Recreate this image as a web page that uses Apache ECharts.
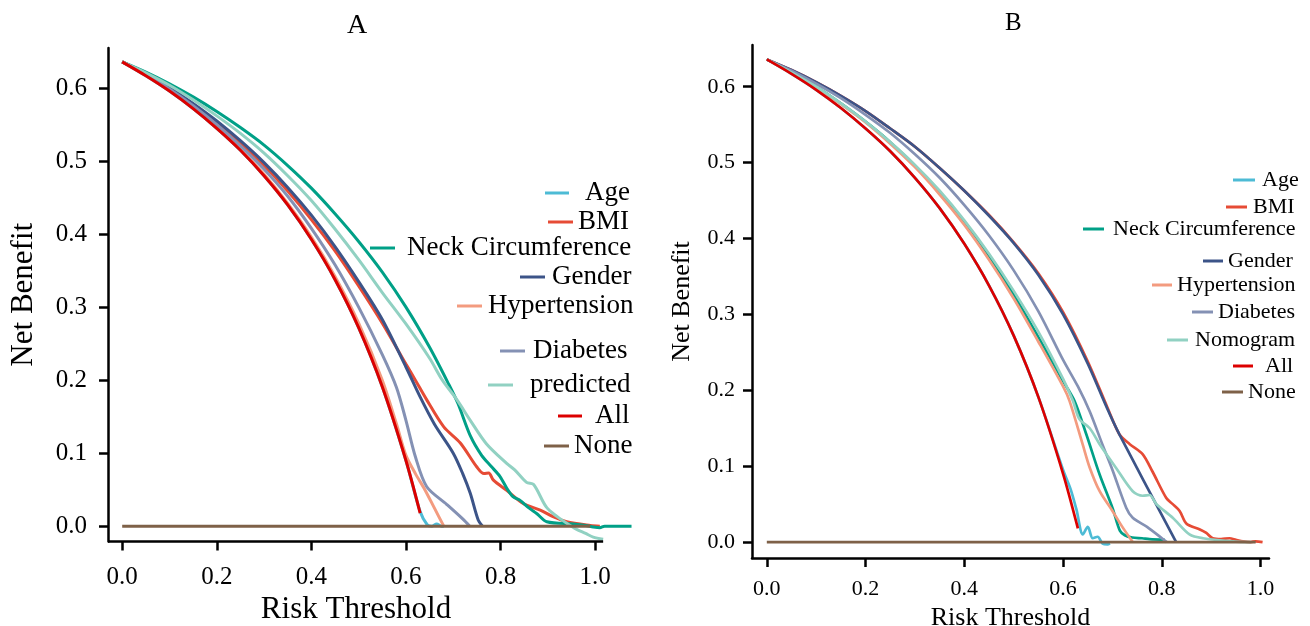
<!DOCTYPE html>
<html>
<head>
<meta charset="utf-8">
<script src="https://cdn.jsdelivr.net/npm/echarts@6.0.0/dist/echarts.min.js"></script>
<style>
  html, body { margin: 0; padding: 0; background: #fff; }
  #chart { width: 1310px; height: 626px; }
</style>
</head>
<body>
<div id="chart"></div>
<script>
// ---- data (risk threshold, net benefit) ----
const tickVals = [0, 0.2, 0.4, 0.6, 0.8, 1.0]
const yTickVals = [0, 0.1, 0.2, 0.3, 0.4, 0.5, 0.6]

const treatAll = [[0,.636],[.05,.617],[.1,.596],[.15,.572],[.2,.545],[.25,.515],[.3,.48],[.35,.44],[.4,.393],[.45,.338],[.5,.272],[.55,.191],[.6,.09],[.63,.018]]
const treatNone = [[0,0],[.99,0]]

// panel A
const ageA = [[0,.636],[.05,.617],[.1,.596],[.15,.572],[.2,.545],[.25,.515],[.3,.48],[.35,.44],[.4,.393],[.45,.338],[.5,.272],[.55,.191],[.6,.09],[.63,.02],[.645,.002],[.655,0],[.665,.003],[.675,0],[.68,0]]
const bmiA = [[0,.636],[.05,.62],[.1,.6],[.15,.578],[.2,.553],[.25,.525],[.3,.494],[.35,.459],[.4,.42],[.45,.377],[.5,.329],[.55,.278],[.6,.222],[.62,.2],[.644,.173],[.68,.136],[.715,.114],[.75,.081],[.765,.072],[.775,.073],[.785,.063],[.813,.049],[.848,.031],[.884,.022],[.911,.013],[.94,.006],[.99,.001],[1.01,0]]
const neckA = [[0,.636],[.05,.622],[.1,.606],[.15,.588],[.2,.568],[.25,.546],[.3,.522],[.35,.494],[.4,.463],[.45,.428],[.5,.39],[.55,.348],[.6,.3],[.65,.245],[.69,.195],[.71,.168],[.736,.124],[.76,.097],[.78,.082],[.799,.068],[.815,.05],[.827,.04],[.84,.036],[.86,.025],[.877,.017],[.898,.006],[.954,.003],[.98,.001],[.996,-.001],[1.01,-.002],[1.02,0],[1.077,0]]
const genderA = [[0,.636],[.05,.62],[.1,.601],[.15,.579],[.2,.555],[.25,.528],[.3,.498],[.35,.464],[.4,.426],[.45,.383],[.5,.335],[.55,.283],[.6,.218],[.63,.177],[.66,.14],[.7,.1],[.72,.072],[.736,.045],[.753,.008],[.762,0]]
const hyperA = [[0,.636],[.05,.618],[.1,.597],[.15,.573],[.2,.546],[.25,.516],[.3,.482],[.35,.442],[.4,.396],[.45,.342],[.5,.278],[.55,.2],[.58,.14],[.6,.097],[.62,.072],[.64,.05],[.66,.025],[.68,0]]
const diabA = [[0,.636],[.05,.619],[.1,.599],[.15,.576],[.2,.55],[.25,.521],[.3,.489],[.35,.452],[.4,.408],[.45,.358],[.5,.3],[.55,.235],[.58,.19],[.6,.145],[.62,.095],[.644,.054],[.686,.03],[.72,.01],[.735,0]]
const predA = [[0,.636],[.05,.621],[.1,.604],[.15,.584],[.2,.562],[.25,.538],[.3,.511],[.35,.48],[.4,.446],[.45,.407],[.5,.365],[.55,.32],[.6,.277],[.65,.23],[.677,.2],[.708,.173],[.736,.145],[.77,.113],[.813,.086],[.83,.077],[.855,.06],[.87,.057],[.897,.026],[.92,.013],[.94,.004],[.96,-.004],[.98,-.01],[.996,-.015],[1.017,-.018]]

// panel B
const ageB = [[0,.636],[.05,.617],[.1,.596],[.15,.572],[.2,.545],[.25,.515],[.3,.48],[.35,.44],[.4,.393],[.45,.338],[.5,.272],[.55,.191],[.6,.095],[.615,.07],[.627,.043],[.64,.01],[.65,.02],[.66,.005],[.67,.007],[.68,-.002],[.69,-.003],[.695,-.002]]
const bmiB = [[0,.636],[.05,.622],[.1,.606],[.15,.588],[.2,.568],[.25,.545],[.3,.521],[.35,.493],[.4,.463],[.45,.431],[.5,.395],[.55,.354],[.6,.303],[.65,.238],[.69,.177],[.714,.142],[.735,.129],[.761,.116],[.781,.093],[.809,.058],[.822,.05],[.836,.041],[.85,.024],[.876,.017],[.89,.012],[.903,.005],[.92,.004],[.937,.005],[.95,.003],[.964,.001],[.98,0],[.99,.001],[1.004,0]]
const neckB = [[0,.636],[.05,.619],[.1,.6],[.15,.578],[.2,.554],[.25,.527],[.3,.496],[.35,.461],[.4,.421],[.45,.376],[.5,.326],[.55,.27],[.6,.212],[.623,.186],[.647,.142],[.674,.089],[.7,.045],[.715,.015],[.725,.009],[.74,.006],[.76,.005],[.775,.004],[.806,.003]]
const genderB = [[0,.636],[.05,.622],[.1,.606],[.15,.588],[.2,.568],[.25,.545],[.3,.521],[.35,.493],[.4,.463],[.45,.43],[.5,.394],[.55,.352],[.6,.3],[.65,.235],[.69,.175],[.714,.142],[.829,0]]
const hyperB = [[0,.636],[.05,.618],[.1,.599],[.15,.577],[.2,.553],[.25,.525],[.3,.494],[.35,.458],[.4,.418],[.45,.372],[.5,.321],[.55,.264],[.6,.205],[.613,.186],[.64,.128],[.654,.098],[.674,.067],[.7,.041],[.72,.02],[.741,0]]
const diabB = [[0,.636],[.05,.621],[.1,.604],[.15,.585],[.2,.563],[.25,.539],[.3,.511],[.35,.48],[.4,.444],[.45,.404],[.5,.358],[.55,.304],[.6,.24],[.63,.205],[.654,.172],[.68,.128],[.7,.095],[.728,.045],[.741,.032],[.77,.02],[.802,.004],[.81,0]]
const nomoB = [[0,.636],[.05,.619],[.1,.6],[.15,.578],[.2,.554],[.25,.527],[.3,.497],[.35,.463],[.4,.424],[.45,.38],[.5,.331],[.55,.277],[.6,.215],[.62,.186],[.633,.162],[.654,.15],[.674,.129],[.707,.098],[.741,.067],[.761,.061],[.775,.062],[.789,.05],[.822,.032],[.856,.01],[.883,.005],[.943,.001],[.98,0]]

const colors = {
  Age: '#4DBBD5', BMI: '#E64B35', 'Neck Circumference': '#00A087', Gender: '#3C5488',
  Hypertension: '#F39B7F', Diabetes: '#8491B4', predicted: '#91D1C2', Nomogram: '#91D1C2',
  All: '#DC0000', None: '#7E6148'
}

const FONT = 'Liberation Serif, Times New Roman, serif'

// axis extents shared by both panels; panel A's plot area runs a little past its axis line
const X_MIN = -0.03, X_AXIS_END = 1.017, X_MAX_A = 1.078
const Y_MIN = -0.021, Y_MAX = 0.655

// legend placement: [name, left, centerY, textPad, lineWidth]
const legendA = [
  ['Age', 545, 193, 11, 24], ['BMI', 548, 222, 0, 25], ['Neck Circumference', 370, 248, 7, 25],
  ['Gender', 520, 277, 2, 25], ['Hypertension', 457, 306, 1, 25], ['Diabetes', 500, 351, 3, 25],
  ['predicted', 488, 385, 12, 25], ['All', 558, 416, 8, 24], ['None', 544, 446, 0, 25]
]
const legendB = [
  ['Age', 1233, 180, 2, 22], ['BMI', 1226, 207, 1, 21], ['Neck Circumference', 1083, 229, 4, 21],
  ['Gender', 1203, 261, 0, 20], ['Hypertension', 1152, 285, 0, 20], ['Diabetes', 1192, 312, 0, 21],
  ['Nomogram', 1167, 340, 2, 21], ['All', 1233, 366, 7, 20], ['None', 1222, 392, 0, 21]
]

function makeLegend(item, fs) {
  const [name, x, cy, pad, w] = item
  return {
    data: [name], left: x, top: cy - fs / 2, padding: 0, selectedMode: false,
    icon: 'rect', itemWidth: w, itemHeight: 3, itemGap: 0,
    textStyle: { fontFamily: FONT, fontSize: fs, color: '#000', lineHeight: fs, padding: [0, 0, 0, pad] }
  }
}

function line(name, data, gi, width, z) {
  return {
    type: 'line', name: name, data: data, xAxisIndex: gi, yAxisIndex: gi,
    showSymbol: false, symbol: 'none', smooth: 0.3,
    lineStyle: { color: colors[name], width: width }, itemStyle: { color: colors[name] },
    z: z || 2
  }
}

function xAx(gi, max, showLine, fs, margin, nameGap, nameFs, namePad) {
  return {
    type: 'value', gridIndex: gi, min: X_MIN, max: max,
    name: 'Risk Threshold', nameLocation: 'middle', nameGap: nameGap,
    nameTextStyle: { fontFamily: FONT, fontSize: nameFs, color: '#000', padding: [0, namePad, 0, 0] },
    axisLine: { show: showLine, onZero: false, lineStyle: { color: '#000', width: 2.5 } },
    axisTick: { show: true, customValues: tickVals, length: 9, lineStyle: { color: '#000', width: 2.5 } },
    axisLabel: { customValues: tickVals, margin: margin, fontFamily: FONT, fontSize: fs, color: '#000',
      formatter: v => v.toFixed(1) },
    splitLine: { show: false }
  }
}

function yAx(gi, fs, margin, nameGap, nameFs) {
  return {
    type: 'value', gridIndex: gi, min: Y_MIN, max: Y_MAX,
    name: 'Net Benefit', nameLocation: 'middle', nameGap: nameGap,
    nameTextStyle: { fontFamily: FONT, fontSize: nameFs, color: '#000' },
    axisLine: { show: true, onZero: false, lineStyle: { color: '#000', width: 2.5 } },
    axisTick: { show: true, customValues: yTickVals, length: 9, lineStyle: { color: '#000', width: 2.5 } },
    axisLabel: { customValues: yTickVals, margin: margin, fontFamily: FONT, fontSize: fs, color: '#000',
      formatter: v => v.toFixed(1) },
    splitLine: { show: false }
  }
}

// panel A's x axis line stops at X_AXIS_END while the curves run on
const noneA = line('None', treatNone, 0, 3, 3)
noneA.markLine = {
  silent: true, symbol: 'none', animation: false, label: { show: false },
  lineStyle: { color: '#000', width: 2.5, type: 'solid' },
  data: [[{ coord: [X_MIN, Y_MIN] }, { coord: [X_AXIS_END, Y_MIN] }]]
}

const chart = echarts.init(document.getElementById('chart'))

const option = {
  animation: false,
  backgroundColor: '#fff',
  textStyle: { fontFamily: FONT },
  title: [
    { text: 'A', left: 347, top: 12, padding: 0, textStyle: { fontFamily: FONT, fontSize: 28, fontWeight: 'normal', color: '#000' } },
    { text: 'B', left: 1005, top: 11, padding: 0, textStyle: { fontFamily: FONT, fontSize: 25, fontWeight: 'normal', color: '#000' } }
  ],
  legend: legendA.map(it => makeLegend(it, 27)).concat(legendB.map(it => makeLegend(it, 22))),
  grid: [
    { left: 108, top: 48, width: 524, height: 493.5, outerBoundsMode: 'none' },
    { left: 752, top: 45, width: 517, height: 513, outerBoundsMode: 'none' }
  ],
  xAxis: [xAx(0, X_MAX_A, false, 25, 23, 51, 31, 28), xAx(1, X_AXIS_END, true, 22, 20, 43, 26, 0)],
  yAxis: [yAx(0, 25, 21, 69, 31), yAx(1, 22, 17, 57, 26)],
  series: [
    line('Age', ageA, 0, 3),
    line('BMI', bmiA, 0, 3),
    line('Neck Circumference', neckA, 0, 3),
    line('Gender', genderA, 0, 3),
    line('Hypertension', hyperA, 0, 3),
    line('Diabetes', diabA, 0, 3),
    line('predicted', predA, 0, 3),
    line('All', treatAll, 0, 3, 3),
    noneA,

    line('Age', ageB, 1, 2.7),
    line('BMI', bmiB, 1, 2.7),
    line('Neck Circumference', neckB, 1, 2.7),
    line('Gender', genderB, 1, 2.7),
    line('Hypertension', hyperB, 1, 2.7),
    line('Diabetes', diabB, 1, 2.7),
    line('Nomogram', nomoB, 1, 2.7),
    line('All', treatAll, 1, 2.7, 3),
    line('None', treatNone, 1, 2.7, 3)
  ]
}

chart.setOption(option)
</script>
</body>
</html>
